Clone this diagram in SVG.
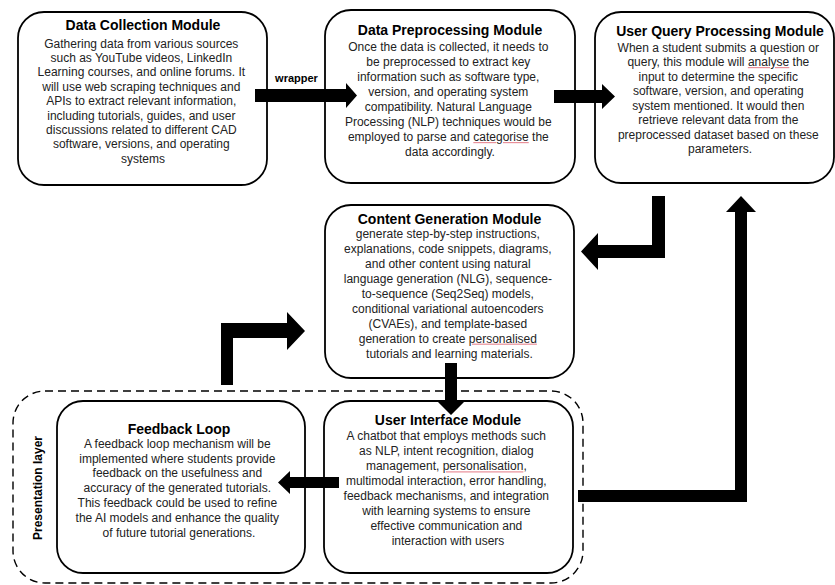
<svg xmlns="http://www.w3.org/2000/svg" width="835" height="585" viewBox="0 0 835 585">
<style>
.box{fill:#fff;stroke:#000;stroke-width:1.8}
.ttl{font-family:"Liberation Sans",Arial,sans-serif;font-weight:bold;font-size:14px;fill:#000;text-anchor:middle}
.body{font-family:"Liberation Sans",Arial,sans-serif;font-size:12px;fill:#222;text-anchor:middle}
.lbl{font-family:"Liberation Sans",Arial,sans-serif;font-weight:bold;font-size:11px;fill:#000;text-anchor:middle}
.sp{text-decoration:underline;fill:#e8909a}
.in{fill:#222}
.arrow{fill:#000;stroke:none}
.layer{fill:none;stroke:#000;stroke-width:1.4;stroke-dasharray:8 5}
</style>
<rect x="0" y="0" width="835" height="585" fill="#fff"/>
<g id="presentation-layer">
<rect class="layer" x="13" y="391" width="570" height="192" rx="32" ry="32"/>
<text class="lbl" style="font-size:12px" transform="translate(41.5,488) rotate(-90)">Presentation layer</text>
</g>
<g id="data-collection">
<rect class="box" x="18" y="12" width="249" height="173" rx="26" ry="26"/>
<text class="ttl" x="143" y="30">Data Collection Module</text>
<text class="body" y="47.5">
<tspan x="143">Gathering data from various sources</tspan>
<tspan x="143" dy="14.4">such as YouTube videos, LinkedIn</tspan>
<tspan x="143" dy="14.4">Learning courses, and online forums. It</tspan>
<tspan x="143" dy="14.4">will use web scraping techniques and</tspan>
<tspan x="143" dy="14.4">APIs to extract relevant information,</tspan>
<tspan x="143" dy="14.4">including tutorials, guides, and user</tspan>
<tspan x="143" dy="14.4">discussions related to different CAD</tspan>
<tspan x="143" dy="14.4">software, versions, and operating</tspan>
<tspan x="143" dy="14.4">systems</tspan>
</text>
</g>
<g id="data-preprocessing">
<rect class="box" x="325" y="10" width="250" height="173" rx="26" ry="26"/>
<text class="ttl" x="450" y="35">Data Preprocessing Module</text>
<text class="body" y="51">
<tspan x="450">Once the data is collected, it needs to</tspan>
<tspan x="450" dy="15">be preprocessed to extract key</tspan>
<tspan x="450" dy="15">information such as software type,</tspan>
<tspan x="450" dy="15">version, and operating system</tspan>
<tspan x="450" dy="15">compatibility. Natural Language</tspan>
<tspan x="450" dy="15">Processing (NLP) techniques would be</tspan>
<tspan x="450" dy="15">employed to parse and <tspan class="sp"><tspan class="in">categorise</tspan></tspan> the</tspan>
<tspan x="450" dy="15">data accordingly.</tspan>
</text>
</g>
<g id="user-query-processing">
<rect class="box" x="595" y="12" width="239" height="171" rx="26" ry="26"/>
<text class="ttl" x="720" y="35.5">User Query Processing Module</text>
<text class="body" y="51.5">
<tspan x="720">When a student submits a question or</tspan>
<tspan x="720" dy="14.5">query, this module will <tspan class="sp"><tspan class="in">analyse</tspan></tspan> the</tspan>
<tspan x="720" dy="14.5">input to determine the specific</tspan>
<tspan x="720" dy="14.5">software, version, and operating</tspan>
<tspan x="720" dy="14.5">system mentioned. It would then</tspan>
<tspan x="720" dy="14.5">retrieve relevant data from the</tspan>
<tspan x="720" dy="14.5">preprocessed dataset based on these</tspan>
<tspan x="720" dy="14.5">parameters.</tspan>
</text>
</g>
<g id="content-generation">
<rect class="box" x="325" y="205" width="249" height="173" rx="26" ry="26"/>
<text class="ttl" x="449.5" y="223.5">Content Generation Module</text>
<text class="body" y="238.3">
<tspan x="449.5">generate step-by-step instructions,</tspan>
<tspan x="449.5" dy="14.9">explanations, code snippets, diagrams,</tspan>
<tspan x="449.5" dy="14.9">and other content using natural</tspan>
<tspan x="449.5" dy="14.9">language generation (NLG), sequence-</tspan>
<tspan x="449.5" dy="14.9">to-sequence (Seq2Seq) models,</tspan>
<tspan x="449.5" dy="14.9">conditional variational autoencoders</tspan>
<tspan x="449.5" dy="14.9">(CVAEs), and template-based</tspan>
<tspan x="449.5" dy="14.9">generation to create <tspan class="sp"><tspan class="in">personalised</tspan></tspan></tspan>
<tspan x="449.5" dy="14.9">tutorials and learning materials.</tspan>
</text>
</g>
<g id="feedback-loop">
<rect class="box" x="57" y="401" width="248" height="172" rx="26" ry="26"/>
<text class="ttl" x="179" y="433.5">Feedback Loop</text>
<text class="body" y="447.6">
<tspan x="179">A feedback loop mechanism will be</tspan>
<tspan x="179" dy="14.9">implemented where students provide</tspan>
<tspan x="179" dy="14.9">feedback on the usefulness and</tspan>
<tspan x="179" dy="14.9">accuracy of the generated tutorials.</tspan>
<tspan x="179" dy="14.9">This feedback could be used to refine</tspan>
<tspan x="179" dy="14.9">the AI models and enhance the quality</tspan>
<tspan x="179" dy="14.9">of future tutorial generations.</tspan>
</text>
</g>
<g id="user-interface">
<rect class="box" x="324" y="401" width="249" height="172" rx="26" ry="26"/>
<text class="ttl" x="448" y="425">User Interface Module</text>
<text class="body" y="440.3">
<tspan x="448">A chatbot that employs methods such</tspan>
<tspan x="448" dy="15">as NLP, intent recognition, dialog</tspan>
<tspan x="448" dy="15">management, <tspan class="sp"><tspan class="in">personalisation</tspan></tspan>,</tspan>
<tspan x="448" dy="15">multimodal interaction, error handling,</tspan>
<tspan x="448" dy="15">feedback mechanisms, and integration</tspan>
<tspan x="448" dy="15">with learning systems to ensure</tspan>
<tspan x="448" dy="15">effective communication and</tspan>
<tspan x="448" dy="15">interaction with users</tspan>
</text>
</g>
<g id="connectors">
<polygon class="arrow" points="255,89 346,89 346,83 357,95.5 346,108 346,102 255,102"/>
<text class="lbl" x="296.5" y="82">wrapper</text>
<polygon class="arrow" points="554,90 602,90 602,84 615,96.5 602,109 602,103 554,103"/>
<polygon class="arrow" points="652,196 665,196 665,258 598,258 598,270 581,251.5 598,233 598,245 652,245"/>
<polygon class="arrow" points="578,490 735,490 735,212 726,212 741,196 756,212 747,212 747,502 578,502"/>
<polygon class="arrow" points="445,363 457,363 457,402 464,402 451,415 438,402 445,402"/>
<polygon class="arrow" points="339,477 290,477 290,471 278,482.5 290,494 290,488 339,488"/>
<polygon class="arrow" points="221,385 221,323 287,323 287,312 305,331 287,350 287,338 233,338 233,385"/>
</g>
</svg>
